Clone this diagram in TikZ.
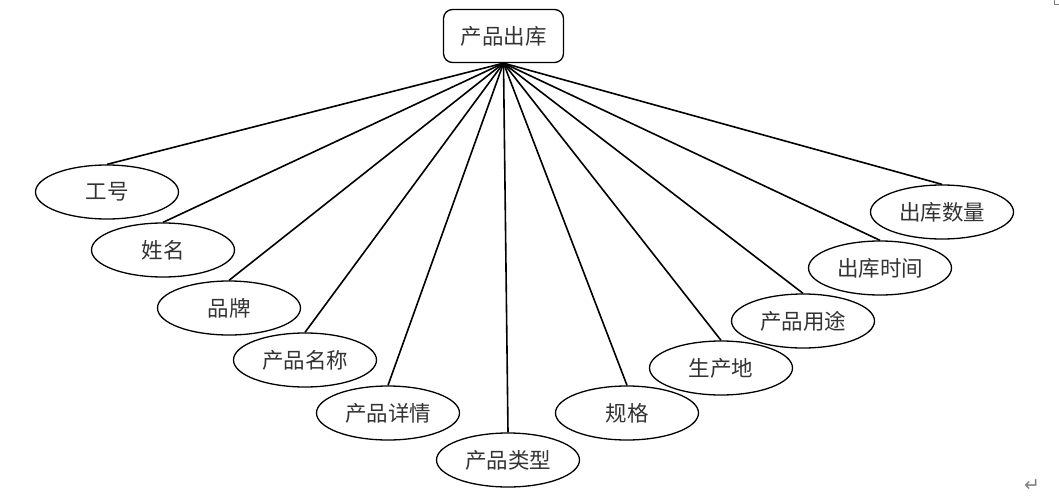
\documentclass[tikz,border=0pt]{standalone}
\usepackage{fontspec}
\setmainfont{Liberation Serif}
\newfontfamily\cjk{Noto Sans CJK SC}
\newfontfamily\symf{DejaVu Sans}
\usetikzlibrary{shapes.geometric}
\begin{document}
\begin{tikzpicture}[x=1pt,y=-1pt,
  attr/.style={ellipse, draw, line width=1.3pt, minimum width=143pt, minimum height=54pt, inner sep=0pt, font=\cjk\fontsize{21.5}{21.5}\selectfont, text=black!80},
  entity/.style={rectangle, rounded corners=9pt, draw, line width=1.3pt, minimum width=120pt, minimum height=53pt, inner sep=0pt, font=\cjk\fontsize{21.5}{21.5}\selectfont, text=black!80},
  conn/.style={line width=1.6pt}]
\useasboundingbox (0,0) rectangle (1059,497);
\node[entity] (top) at (503.5,36) {产品出库};
\node[attr] (a1) at (107,192) {工号};
\node[attr] (a2) at (163,250) {姓名};
\node[attr] (a3) at (229,308) {品牌};
\node[attr] (a4) at (305,360) {产品名称};
\node[attr] (a5) at (388,413) {产品详情};
\node[attr] (a6) at (508,460) {产品类型};
\node[attr] (a7) at (627,413) {规格};
\node[attr] (a8) at (721,368) {生产地};
\node[attr] (a9) at (803,321) {产品用途};
\node[attr] (a10) at (880,268) {出库时间};
\node[attr] (a11) at (942,212) {出库数量};
\foreach \n in {a1,a2,a3,a4,a5,a6,a7,a8,a9,a10,a11}
  \draw[conn] (top.south) -- (\n.north);
\coordinate (c1) at (1054,0);
\coordinate (c2) at (1054,4.5);
\coordinate (c3) at (1059,4.5);
\draw[gray, line width=0.8pt] (c1) -- (c2) -- (c3);
\node[font=\symf\fontsize{19}{19}\selectfont, text=gray, inner sep=0pt] (ret) at (1032,486) {↵};
\end{tikzpicture}
\end{document}
